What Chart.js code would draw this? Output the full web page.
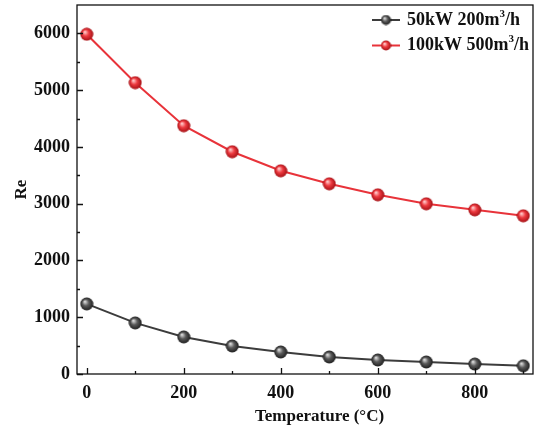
<!DOCTYPE html>
<html>
<head>
<meta charset="utf-8">
<script src="https://cdn.jsdelivr.net/npm/chart.js@4/dist/chart.umd.min.js"></script>
<style>
  html, body { margin: 0; padding: 0; background: #fff; }
  #wrap { width: 536px; height: 425px; }
</style>
</head>
<body>
<div id="wrap"><canvas id="myChart"></canvas></div>
<script>
var temps = [0, 100, 200, 300, 400, 500, 600, 700, 800, 900];
var re50 = [1235, 900, 653, 494, 388, 300, 247, 212, 176, 145];
var re100 = [5985, 5132, 4374, 3915, 3580, 3351, 3157, 2998, 2892, 2787];
var xTicks = [0, 100, 200, 300, 400, 500, 600, 700, 800, 900];
var yTicks = [0, 500, 1000, 1500, 2000, 2500, 3000, 3500, 4000, 4500, 5000, 5500, 6000];
var seriesNames = [['50kW 200m', '3', '/h'], ['100kW 500m', '3', '/h']];
var xTitle = 'Temperature (\u00b0C)';
var lineColors = ['#3c3c3c', '#e8333a'];
var ballColors = [['#d8d8d8', '#5a5a5a', '#1e1e1e'], ['#ffc8c8', '#ee3a40', '#a51015']];

var FONT = '"Liberation Serif", "Times New Roman", serif';

// small shaded ball used as point style
function makeBall(c, r) {
  var s = Math.ceil(r * 2 + 1);
  var cv = document.createElement('canvas');
  cv.width = s; cv.height = s;
  var g = cv.getContext('2d');
  var m = s / 2;
  var grad = g.createRadialGradient(m - r * 0.3, m - r * 0.35, 0.5, m, m, r);
  grad.addColorStop(0, c[0]);
  grad.addColorStop(0.45, c[1]);
  grad.addColorStop(1, c[2]);
  g.fillStyle = grad;
  g.beginPath();
  g.arc(m, m, r, 0, Math.PI * 2);
  g.fill();
  return cv;
}
var balls = [makeBall(ballColors[0], 6.5), makeBall(ballColors[1], 6.5)];
var smallBalls = [makeBall(ballColors[0], 5), makeBall(ballColors[1], 5)];

function pts(arr) {
  return temps.map(function(t, i) { return {x: t, y: arr[i]}; });
}

function setTicks(list) {
  return function(s) { s.ticks = list.map(function(v) { return {value: v}; }); };
}

// frame + inward ticks + x title (sits a bit right of centre in the original)
var frameTicks = {
  id: 'frameTicks',
  afterDraw: function(chart) {
    var c = chart.ctx, a = chart.chartArea;
    var xs = chart.scales.x, ys = chart.scales.y;
    c.save();
    c.strokeStyle = '#111';
    c.lineWidth = 1.3;
    c.strokeRect(a.left, a.top, a.right - a.left, a.bottom - a.top);
    c.beginPath();
    xs.ticks.forEach(function(t) {
      var px = Math.round(xs.getPixelForValue(t.value)) + 0.5;
      var len = (t.value % 200 === 0) ? 6 : 3;
      c.moveTo(px, a.bottom); c.lineTo(px, a.bottom - len);
    });
    ys.ticks.forEach(function(t) {
      var py = Math.round(ys.getPixelForValue(t.value)) + 0.5;
      var len = (t.value % 1000 === 0) ? 6 : 3;
      c.moveTo(a.left, py); c.lineTo(a.left + len, py);
    });
    c.stroke();
    c.fillStyle = '#111';
    c.font = 'bold 17px ' + FONT;
    c.textAlign = 'center';
    c.textBaseline = 'middle';
    c.fillText(xTitle, xs.getPixelForValue(480), 417);
    c.restore();
  }
};

// legend drawn inside plot, top right
var innerLegend = {
  id: 'innerLegend',
  afterDraw: function(chart) {
    var c = chart.ctx;
    c.save();
    c.textBaseline = 'middle';
    chart.data.datasets.forEach(function(ds, i) {
      var y = 20 + i * 25.5;
      c.strokeStyle = lineColors[i];
      c.lineWidth = 2;
      c.beginPath(); c.moveTo(372, y); c.lineTo(400, y); c.stroke();
      c.drawImage(smallBalls[i], 386 - smallBalls[i].width / 2, y - smallBalls[i].height / 2);
      c.fillStyle = '#111';
      var parts = seriesNames[i];
      var x = 407;
      c.font = 'bold 18px ' + FONT;
      c.fillText(parts[0], x, y);
      x += c.measureText(parts[0]).width;
      c.font = 'bold 11px ' + FONT;
      c.fillText(parts[1], x, y - 6);
      x += c.measureText(parts[1]).width;
      c.font = 'bold 18px ' + FONT;
      c.fillText(parts[2], x, y);
    });
    c.restore();
  }
};

new Chart(document.getElementById('myChart').getContext('2d'), {
  type: 'line',
  data: {
    datasets: [
      {label: seriesNames[0].join(''), data: pts(re50), borderColor: lineColors[0], borderWidth: 2,
       pointStyle: balls[0], pointRadius: 7, tension: 0},
      {label: seriesNames[1].join(''), data: pts(re100), borderColor: lineColors[1], borderWidth: 2,
       pointStyle: balls[1], pointRadius: 7, tension: 0}
    ]
  },
  options: {
    responsive: true,
    maintainAspectRatio: false,
    animation: false,
    layout: {autoPadding: false, padding: {top: 5, right: 3, left: 0, bottom: 0}},
    plugins: {legend: {display: false}, tooltip: {enabled: false}},
    scales: {
      x: {
        type: 'linear', min: -20, max: 920,
        afterBuildTicks: setTicks(xTicks),
        afterFit: function(s) { s.height = 51; s.paddingLeft = 0; s.paddingRight = 0; },
        grid: {display: false, drawTicks: false},
        border: {display: false},
        ticks: {
          autoSkip: false, maxRotation: 0, padding: 9,
          color: '#111', font: {family: FONT, size: 18, weight: 'bold'},
          callback: function(v) { return v % 200 === 0 ? v : ''; }
        },
        title: {display: false}
      },
      y: {
        min: 0, max: 6500,
        afterBuildTicks: setTicks(yTicks),
        afterFit: function(s) { s.width = 77; s.paddingTop = 0; s.paddingBottom = 0; },
        grid: {display: false, drawTicks: false},
        border: {display: false},
        ticks: {
          autoSkip: false, padding: 7,
          color: '#111', font: {family: FONT, size: 18, weight: 'bold'},
          callback: function(v) { return v % 1000 === 0 ? v : ''; }
        },
        title: {display: true, text: 'Re', color: '#111',
                font: {family: FONT, size: 17, weight: 'bold'}, padding: {top: 11, bottom: 0}}
      }
    }
  },
  plugins: [frameTicks, innerLegend]
});
</script>
</body>
</html>
